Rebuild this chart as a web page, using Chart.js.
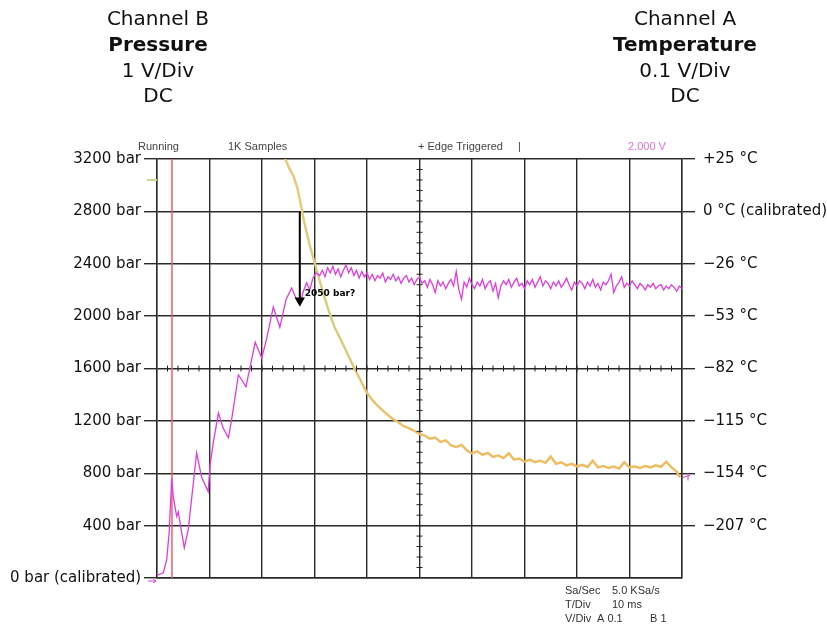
<!DOCTYPE html>
<html>
<head>
<meta charset="utf-8">
<script src="https://cdn.jsdelivr.net/npm/chart.js@4"></script>
<style>
html, body { margin: 0; background: #fff; }
canvas { display: block; }
</style>
</head>
<body>
<canvas id="scope" width="827" height="626"></canvas>
<script>
// Channel B (pressure, bar) - rising edge
const riseTime = [0, 1.2, 1.85, 2.3, 2.8, 3.1, 3.75, 4.05, 5.2, 5.95, 7.55, 8.5, 9.75, 10.1, 10.7, 11.7, 12.6, 13.6, 14.2, 15.5, 15.8, 16.95, 18.7, 19.95, 20.9, 22.15, 23.4, 24.6, 25.65, 26.6, 27.25, 27.8, 28.5, 29.1, 29.7, 30.3];
const riseBar = [20, 40, 140, 340, 760, 620, 470, 505, 230, 370, 955, 770, 660, 860, 1030, 1260, 1145, 1070, 1205, 1550, 1535, 1460, 1800, 1680, 1830, 2070, 1915, 2130, 2215, 2125, 2085, 2180, 2255, 2200, 2290, 2330];

// Channel B plateau, one reading every 0.5 ms from 31 ms
const plateauStart = 31;
const plateauStep = 0.5;
const plateauBar = [
  2310, 2350, 2300, 2370, 2330, 2380, 2320, 2360, 2300, 2350,
  2390, 2330, 2370, 2310, 2350, 2290, 2340, 2300, 2330, 2280,
  2320, 2270, 2310, 2290, 2330, 2260, 2300, 2280, 2320, 2270,
  2300, 2250, 2290, 2310, 2260, 2290, 2240, 2280, 2300, 2250,
  2270, 2220, 2280, 2240, 2180, 2270, 2230, 2260, 2210, 2250,
  2280, 2230, 2340, 2200, 2130, 2260, 2220, 2290, 2240, 2210,
  2260, 2230, 2280, 2210, 2250, 2270, 2190, 2250, 2140, 2230,
  2270, 2240, 2280, 2220, 2260, 2290, 2230, 2250, 2210, 2270,
  2240, 2280, 2220, 2260, 2300, 2230, 2270, 2250, 2210, 2260,
  2230, 2270, 2220, 2250, 2290, 2240, 2200, 2260, 2230, 2270,
  2250, 2210, 2260, 2230, 2280, 2220, 2250, 2200, 2260, 2240,
  2270, 2320, 2180, 2230, 2260, 2300, 2220, 2250, 2230, 2270,
  2240, 2210, 2250, 2230, 2200, 2240, 2220, 2250, 2210, 2230,
  2240, 2200, 2230, 2210, 2240, 2220, 2190, 2230, 2210
];

// Channel A (temperature sensor, volts, 0 V = 0 °C calibrated)
const tempTime = [24.0, 24.4, 25.1, 26.0, 26.7, 27.2, 27.6, 28.0, 28.5, 29.1, 29.8, 30.4, 31.0, 31.7, 32.4, 33.0, 33.8, 34.9, 35.8, 36.8, 37.7, 38.7, 39.9, 41, 42, 43, 44, 45, 46, 47, 48, 49, 50,
  51, 52, 53, 54, 55, 56, 57, 58, 59, 60, 61, 62, 63, 64, 65, 66, 67, 68, 69, 70, 71, 72, 73, 74, 75,
  76, 77, 78, 79, 80, 81, 82, 83, 84, 85, 86, 87, 88, 89, 90, 91, 92, 93, 94, 95, 96, 97, 98, 99, 99.6];
const tempVolt = [0.109, 0.101, 0.084, 0.067, 0.046, 0.023, 0.002, -0.019, -0.040, -0.065, -0.090, -0.111, -0.133, -0.158, -0.180, -0.198, -0.221, -0.243, -0.262, -0.283, -0.302, -0.321, -0.345, -0.360, -0.371, -0.380, -0.389, -0.397, -0.403, -0.410, -0.414, -0.419, -0.425,
  -0.428, -0.434, -0.432, -0.440, -0.437, -0.447, -0.450, -0.446, -0.456, -0.462, -0.458, -0.465, -0.461, -0.469, -0.466, -0.471, -0.462, -0.474, -0.472, -0.478, -0.474, -0.479, -0.476, -0.480, -0.468,
  -0.482, -0.479, -0.485, -0.482, -0.487, -0.484, -0.488, -0.476, -0.489, -0.486, -0.490, -0.487, -0.491, -0.479, -0.489, -0.487, -0.490, -0.486, -0.489, -0.485, -0.488, -0.478, -0.489, -0.497, -0.508];

// axis labels
const pressureTicks = [0, 400, 800, 1200, 1600, 2000, 2400, 2800, 3200];
const pressureLabels = ['0 bar (calibrated)', '400 bar', '800 bar', '1200 bar', '1600 bar', '2000 bar', '2400 bar', '2800 bar', '3200 bar'];
const tempTicks = [-0.7, -0.6, -0.5, -0.4, -0.3, -0.2, -0.1, 0, 0.1];
const tempLabels = ['', '\u2212207 °C', '\u2212154 °C', '\u2212115 °C', '\u221282 °C', '\u221253 °C', '\u221226 °C', '0 °C (calibrated)', '+25 °C'];

// trigger marker and cursor
const triggerTime = 2.85;
const cursorTime = 27.2;
const cursorFrom = 2800;
const cursorTo = 2120;
const cursorLabel = '2050 bar?';

const pressureData = riseTime.map((t, i) => ({ x: t, y: riseBar[i] }))
  .concat(plateauBar.map((v, i) => ({ x: plateauStart + i * plateauStep, y: v })));
const tempData = tempTime.map((t, i) => ({ x: t, y: tempVolt[i] }));

function orangeGradient(ctx) {
  const area = ctx.chart.chartArea;
  if (!area) return '#f0b040';
  const g = ctx.chart.ctx.createLinearGradient(0, area.top, 0, area.bottom);
  g.addColorStop(0, '#ebc874');
  g.addColorStop(0.4, '#d6ce7c');
  g.addColorStop(0.6, '#efbf66');
  g.addColorStop(1, '#f4b04a');
  return g;
}

const scopeText = {
  id: 'scopeText',
  afterDraw(chart) {
    const c = chart.ctx;
    const xs = chart.scales.x, ys = chart.scales.y, ya = chart.scales.yA;
    c.save();
    // headers
    c.fillStyle = '#111';
    c.textAlign = 'center';
    c.textBaseline = 'middle';
    [['Channel B', 'Pressure', '1 V/Div', 'DC', 158], ['Channel A', 'Temperature', '0.1 V/Div', 'DC', 685]].forEach(col => {
      c.font = '20px "DejaVu Sans"';
      c.fillText(col[0], col[4], 20);
      c.font = 'bold 20px "DejaVu Sans"';
      c.fillText(col[1], col[4], 46);
      c.font = '20px "DejaVu Sans"';
      c.fillText(col[2], col[4], 72);
      c.fillText(col[3], col[4], 97);
    });
    // status line
    c.textAlign = 'left';
    c.font = '11px "Liberation Sans"';
    c.fillStyle = '#444';
    c.fillText('Running', 138, 147);
    c.fillText('1K Samples', 228, 147);
    c.fillText('+ Edge Triggered', 418, 147);
    c.fillText('|', 518, 147);
    c.fillStyle = '#e070e0';
    c.fillText('2.000 V', 628, 147);
    // settings
    c.fillStyle = '#333';
    c.fillText('Sa/Sec', 565, 591);
    c.fillText('5.0 KSa/s', 612, 591);
    c.fillText('T/Div', 565, 605);
    c.fillText('10 ms', 612, 605);
    c.fillText('V/Div', 565, 619);
    c.fillText('A 0.1', 597, 619);
    c.fillText('B 1', 650, 619);
    // cursor label
    c.font = 'bold 9px "DejaVu Sans"';
    c.fillStyle = '#000';
    c.fillText(cursorLabel, xs.getPixelForValue(cursorTime) + 5, ys.getPixelForValue(2170));
    // minor ticks on centre lines
    c.strokeStyle = '#222';
    c.lineWidth = 1;
    const cy = ys.getPixelForValue(1600), cx = xs.getPixelForValue(50);
    c.beginPath();
    for (let t = 2; t < 100; t += 2) {
      const px = xs.getPixelForValue(t);
      c.moveTo(px, cy - 3); c.lineTo(px, cy + 3);
    }
    for (let b = 80; b < 3200; b += 80) {
      const py = ys.getPixelForValue(b);
      c.moveTo(cx - 3, py); c.lineTo(cx + 3, py);
    }
    c.stroke();
    // channel reference markers
    c.strokeStyle = '#cbd68e';
    c.lineWidth = 2;
    c.beginPath();
    c.moveTo(xs.left - 10, ya.getPixelForValue(0.06));
    c.lineTo(xs.left, ya.getPixelForValue(0.06));
    c.stroke();
    c.strokeStyle = '#e040e0';
    c.lineWidth = 1;
    const zb = ys.getPixelForValue(0) + 3;
    c.beginPath();
    c.moveTo(xs.left - 9, zb); c.lineTo(xs.left - 1, zb);
    c.moveTo(xs.left - 4, zb - 2); c.lineTo(xs.left - 1, zb); c.lineTo(xs.left - 4, zb + 2);
    const re = ya.getPixelForValue(-0.508);
    c.moveTo(xs.right + 1, re); c.lineTo(xs.right + 8, re - 2);
    c.moveTo(xs.right + 6, re - 4); c.lineTo(xs.right + 6, re + 3);
    c.stroke();
    c.restore();
  }
};

new Chart(document.getElementById('scope').getContext('2d'), {
  type: 'line',
  data: {
    datasets: [
      { label: 'Trigger', data: [{ x: triggerTime, y: 0 }, { x: triggerTime, y: 3200 }], yAxisID: 'y', borderColor: '#f06060', borderWidth: 1.5, pointRadius: 0, order: 4 },
      { label: 'Temperature', data: tempData, yAxisID: 'yA', borderColor: orangeGradient, borderWidth: 2.4, pointRadius: 0, tension: 0, order: 3 },
      { label: 'Pressure', data: pressureData, yAxisID: 'y', borderColor: '#e03ce0', borderWidth: 1.3, pointRadius: 0, tension: 0, order: 2 },
      { label: 'Cursor', data: [{ x: cursorTime, y: cursorFrom }, { x: cursorTime, y: cursorTo }], yAxisID: 'y', borderColor: '#000', backgroundColor: '#000', borderWidth: 2, pointRadius: [0, 4], pointStyle: 'triangle', rotation: 180, order: 1 }
    ]
  },
  options: {
    responsive: false,
    animation: false,
    events: [],
    layout: { padding: { top: 159, left: 0, right: 0, bottom: 0 } },
    plugins: { legend: { display: false }, tooltip: { enabled: false } },
    scales: {
      x: {
        type: 'linear', min: 0, max: 100,
        ticks: { stepSize: 10, display: false },
        grid: { color: '#2a2a2a', lineWidth: 1.4, drawTicks: false },
        border: { color: '#2a2a2a', width: 1.4 },
        afterFit: s => { s.height = 48; }
      },
      y: {
        position: 'left', min: 0, max: 3200,
        afterBuildTicks: s => { s.ticks = pressureTicks.map(v => ({ value: v })); },
        ticks: {
          callback: v => pressureLabels[pressureTicks.indexOf(v)],
          font: { family: 'DejaVu Sans', size: 15 }, color: '#111', padding: 3
        },
        grid: { color: '#2a2a2a', lineWidth: 1.4, tickLength: 13 },
        border: { color: '#2a2a2a', width: 1.4 },
        afterFit: s => { s.width = 157; }
      },
      yA: {
        position: 'right', min: -0.7, max: 0.1,
        afterBuildTicks: s => { s.ticks = tempTicks.map(v => ({ value: v })); },
        ticks: {
          callback: v => tempLabels[tempTicks.indexOf(v)],
          font: { family: 'DejaVu Sans', size: 15 }, color: '#111', padding: 8
        },
        grid: { drawOnChartArea: false, color: c => c.index === 0 ? 'rgba(0,0,0,0)' : '#2a2a2a', lineWidth: 1.4, tickLength: 13 },
        border: { color: '#2a2a2a', width: 1.4 },
        afterFit: s => { s.width = 145; }
      }
    }
  },
  plugins: [scopeText]
});
</script>
</body>
</html>
